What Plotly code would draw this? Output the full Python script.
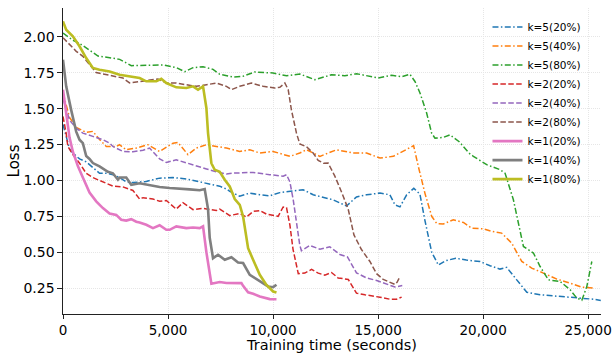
import plotly.graph_objects as go

# ---------------- data ----------------
series_names = ["k=5(20%)", "k=5(40%)", "k=5(80%)",
                "k=2(20%)", "k=2(40%)", "k=2(80%)",
                "k=1(20%)", "k=1(40%)", "k=1(80%)"]

t_k5_20 = [0, 150, 310, 470, 790, 1100, 1420, 1740, 2060, 2380, 2690, 3010, 3330, 3650, 3960,
           4600, 5240, 5870, 6510, 7140, 7460, 7780, 7940, 8410, 8890, 9370, 9840, 10320, 10800,
           11430, 11910, 12380, 12860, 13500, 13970, 14450, 15090, 15560, 15800, 16040, 16360,
           16700, 16990, 17230, 17550, 17870, 18200, 18700, 19200, 19850, 20330, 20800, 21120,
           21600, 22080, 22710, 23350, 23980, 24620, 25250, 25600]
loss_k5_20 = [1.39, 1.30, 1.22, 1.19, 1.15, 1.13, 1.09, 1.05, 1.05, 1.04, 1.02, 0.99, 0.985, 0.99, 0.993,
              1.016, 1.02, 1.01, 0.99, 0.967, 0.96, 0.94, 0.924, 0.89, 0.912, 0.90, 0.893, 0.915, 0.925,
              0.935, 0.90, 0.885, 0.865, 0.822, 0.885, 0.90, 0.912, 0.90, 0.83, 0.816, 0.90,
              0.945, 0.905, 0.72, 0.50, 0.41, 0.44, 0.458, 0.445, 0.435, 0.405, 0.382, 0.394,
              0.307, 0.22, 0.203, 0.196, 0.187, 0.18, 0.172, 0.163]

t_k5_40 = [0, 310, 630, 1100, 1420, 1740, 2060, 2530, 2690, 3010, 3490, 4040, 4600, 5240, 5470,
           5950, 6350, 6830, 7300, 7780, 8410, 8890, 9370, 10000, 10800, 11270, 11590, 12230, 13020,
           13810, 14450, 15090, 15720, 16360, 16690, 16910, 17230, 17550, 17790, 18100, 18580,
           19060, 19450, 20010, 20410, 20880, 21360, 21840, 22310, 22870, 23510, 24140, 24700, 25250]
loss_k5_40 = [1.61, 1.44, 1.37, 1.335, 1.342, 1.285, 1.237, 1.237, 1.249, 1.214, 1.226, 1.249, 1.202, 1.26, 1.265,
              1.18, 1.226, 1.249, 1.237, 1.226, 1.202, 1.214, 1.191, 1.202, 1.168, 1.191, 1.214, 1.168, 1.214,
              1.191, 1.191, 1.156, 1.168, 1.214, 1.242, 1.10, 0.91, 0.75, 0.70, 0.696, 0.726,
              0.707, 0.668, 0.663, 0.645, 0.633, 0.563, 0.435, 0.389, 0.354, 0.312, 0.284, 0.256, 0.25]

t_k5_80 = [0, 476, 794, 1270, 1667, 2222, 2698, 3254, 3968, 4762, 5400, 5793, 6190, 6666, 7142,
           7459, 7855, 8095, 8571, 9127, 10001, 10637, 11273, 11988, 12782, 13418, 13974, 14451,
           15007, 15642, 16119, 16516, 16754, 16993, 17310, 17548, 17707, 18104, 18420, 18860,
           19330, 19535, 20168, 20804, 21042, 21440, 21917, 22393, 22711, 23108, 23664, 24141,
           24459, 24697, 24935, 25173]
loss_k5_80 = [2.027, 1.977, 1.955, 1.907, 1.867, 1.856, 1.844, 1.80, 1.80, 1.805, 1.786, 1.758, 1.786, 1.793, 1.774,
              1.74, 1.728, 1.721, 1.726, 1.756, 1.749, 1.730, 1.742, 1.702, 1.737, 1.730, 1.744, 1.730,
              1.714, 1.733, 1.723, 1.740, 1.69, 1.61, 1.47, 1.33, 1.295, 1.30, 1.318, 1.27,
              1.19, 1.168, 1.11, 1.075, 1.051, 0.865, 0.54, 0.494, 0.40, 0.307, 0.296, 0.238,
              0.18, 0.165, 0.26, 0.435]

t_k2_20 = [0, 150, 230, 470, 790, 1100, 1420, 1740, 1900, 2380, 2850, 3330, 3650, 3810, 4280,
           4600, 4920, 5390, 5710, 6190, 6670, 7300, 7460, 7940, 8410, 8730, 9050, 9370, 9690,
           10000, 10240, 10480, 10640, 10800, 10950, 11200, 11510, 11750, 11830, 12150, 12460,
           12780, 13100, 13580, 13820, 13970, 14370, 14770, 15090, 15560, 15880, 16120]
loss_k2_20 = [1.446, 1.33, 1.237, 1.18, 1.12, 1.05, 1.02, 1.00, 0.99, 0.96, 0.955, 0.93, 0.87, 0.88, 0.87,
              0.855, 0.86, 0.80, 0.845, 0.796, 0.805, 0.79, 0.80, 0.755, 0.77, 0.745, 0.784, 0.79, 0.765,
              0.755, 0.75, 0.815, 0.81, 0.69, 0.52, 0.35, 0.354, 0.373, 0.38, 0.354, 0.34,
              0.358, 0.32, 0.31, 0.25, 0.214, 0.203, 0.195, 0.186, 0.172, 0.172, 0.187]

t_k2_40 = [0, 310, 630, 945, 1420, 1900, 2220, 2375, 2850, 3330, 3810, 4120, 4600, 4920, 5390,
           5870, 6350, 6830, 7300, 7780, 8100, 8410, 9050, 9840, 10480, 10640, 10800, 10960,
           11110, 11270, 11350, 11750, 12230, 12700, 13180, 13540, 13970, 14450, 14930, 15400,
           15800, 16150]
loss_k2_40 = [1.57, 1.42, 1.365, 1.33, 1.307, 1.284, 1.26, 1.237, 1.202, 1.20, 1.21, 1.226, 1.15, 1.125, 1.144,
              1.121, 1.098, 1.08, 1.06, 1.045, 1.051, 1.051, 1.056, 1.04, 1.03, 1.04, 0.99, 0.865,
              0.726, 0.55, 0.51, 0.547, 0.52, 0.537, 0.484, 0.467, 0.356, 0.32, 0.303, 0.28,
              0.257, 0.267]

t_k2_80 = [0, 310, 630, 945, 1263, 1581, 1899, 2375, 2852, 3170, 3650, 4120, 4520, 4920, 5390,
           5870, 6350, 6830, 7300, 7780, 8015, 8410, 8970, 9525, 10080, 10320, 10560, 10720,
           10875, 11113, 11271, 11590, 11908, 12146, 12400, 12622, 12940, 13258, 13576, 13850,
           14200, 14609, 14927, 15244, 15562, 15800, 15900, 16040]
loss_k2_80 = [1.995, 1.947, 1.90, 1.865, 1.807, 1.752, 1.742, 1.726, 1.714, 1.68, 1.691, 1.702, 1.707, 1.679, 1.679,
              1.667, 1.656, 1.667, 1.679, 1.656, 1.633, 1.656, 1.679, 1.656, 1.644, 1.649, 1.679, 1.633,
              1.49, 1.33, 1.255, 1.235, 1.191, 1.14, 1.12, 1.121, 1.03, 0.92, 0.80, 0.62,
              0.52, 0.435, 0.35, 0.31, 0.293, 0.275, 0.29, 0.33]

t_k1_20 = [0, 152, 310, 470, 707, 945, 1263, 1581, 1899, 2217, 2534, 2773, 3011, 3249, 3488,
           3647, 3964, 4282, 4600, 4918, 5077, 5394, 5712, 5871, 6189, 6507, 6666, 6825, 7063,
           7460, 7780, 8096, 8493, 8573, 8811, 9050, 9367, 9844, 10162]
loss_k1_20 = [1.632, 1.45, 1.30, 1.20, 1.10, 1.02, 0.915, 0.854, 0.807, 0.770, 0.760, 0.726, 0.720, 0.730, 0.712,
              0.707, 0.691, 0.668, 0.688, 0.656, 0.656, 0.68, 0.675, 0.668, 0.672, 0.668, 0.68, 0.50, 0.28,
              0.292, 0.285, 0.284, 0.284, 0.265, 0.22, 0.21, 0.191, 0.173, 0.172]

t_k1_40 = [0, 152, 391, 629, 786, 945, 1105, 1263, 1422, 1740, 2137, 2375, 2614, 2693, 3011,
           3249, 3647, 4123, 4600, 5077, 5554, 6030, 6507, 6745, 6904, 6984, 7142, 7381, 7699,
           8017, 8334, 8573, 8891, 9367, 9764, 10003, 10162]
loss_k1_40 = [1.842, 1.656, 1.49, 1.34, 1.284, 1.26, 1.17, 1.15, 1.121, 1.098, 1.06, 1.05, 1.005, 1.02, 1.02,
              0.97, 0.98, 0.965, 0.954, 0.947, 0.94, 0.938, 0.932, 0.94, 0.80, 0.60, 0.458, 0.482, 0.447,
              0.465, 0.428, 0.424, 0.342, 0.296, 0.261, 0.256, 0.273]

t_k1_80 = [0, 151, 469, 786, 1104, 1422, 1740, 2217, 2693, 3170, 3647, 3964, 4441, 4679, 4918,
           5394, 5871, 6189, 6427, 6666, 6825, 6904, 6984, 7063, 7222, 7460, 7699, 7937, 8176,
           8334, 8414, 8573, 8811, 9049, 9367, 9685, 10003, 10162]
loss_k1_80 = [2.109, 2.051, 2.005, 1.935, 1.853, 1.784, 1.772, 1.760, 1.737, 1.726, 1.714, 1.691, 1.691, 1.709, 1.679,
              1.649, 1.644, 1.656, 1.633, 1.656, 1.505, 1.33, 1.24, 1.12, 1.074, 1.06, 1.005, 0.958, 0.87,
              0.84, 0.83, 0.749, 0.528, 0.447, 0.342, 0.272, 0.226, 0.219]

x_tick_values = [0, 5000, 10000, 15000, 20000, 25000]
y_tick_values = [0.25, 0.50, 0.75, 1.00, 1.25, 1.50, 1.75, 2.00]
x_title = "Training time (seconds)"
y_title = "Loss"

# ---------------- styling ----------------
times = [t_k5_20, t_k5_40, t_k5_80, t_k2_20, t_k2_40, t_k2_80, t_k1_20, t_k1_40, t_k1_80]
losses = [loss_k5_20, loss_k5_40, loss_k5_80, loss_k2_20, loss_k2_40, loss_k2_80,
          loss_k1_20, loss_k1_40, loss_k1_80]
colors = ["#1f77b4", "#ff7f0e", "#2ca02c", "#d62728", "#9467bd", "#8c564b",
          "#e377c2", "#7f7f7f", "#bcbd22"]
DASHDOT = "6px,2.4px,1.5px,2.4px"
DASHED = "5.5px,2.4px"
dashes = [DASHDOT] * 3 + [DASHED] * 3 + ["solid"] * 3
widths = [1.5] * 6 + [2.6] * 3

fig = go.Figure()
for name, t, l, c, d, w in zip(series_names, times, losses, colors, dashes, widths):
    fig.add_trace(go.Scatter(x=t, y=l, mode="lines", name=name,
                             line=dict(color=c, width=w, dash=d)))

fig.update_layout(
    width=613, height=353,
    margin=dict(l=63, r=12, t=8, b=39),
    plot_bgcolor="white", paper_bgcolor="white",
    font=dict(family="DejaVu Sans", size=14, color="black"),
    showlegend=True,
    legend=dict(x=0.789, y=0.985, xanchor="left", yanchor="top",
                bgcolor="rgba(0,0,0,0)", borderwidth=0,
                font=dict(size=10.5), tracegroupgap=0, itemwidth=30),
)
axis_common = dict(showline=True, linecolor="#222", linewidth=1.2, mirror=False,
                   ticks="outside", tickwidth=1.2, tickcolor="#222",
                   showgrid=True, gridcolor="#e6e6e6", gridwidth=0.8, griddash="1px,1px",
                   zeroline=False)
fig.update_xaxes(range=[0, 25610], tickvals=x_tick_values, tickformat=",",
                 ticklen=3.5, tickfont=dict(size=13.5),
                 title=dict(text=x_title, font=dict(size=14.5), standoff=0),
                 automargin=False, **axis_common)
fig.update_yaxes(range=[0.069, 2.202], tickvals=y_tick_values, tickformat=".2f",
                 ticklen=4.5, tickfont=dict(size=14),
                 title=dict(text=y_title, font=dict(size=15), standoff=0),
                 automargin=False, **axis_common)

fig.write_html("out.html", config={"displayModeBar": False},
               post_script="document.body.style.margin='0';document.body.style.overflow='hidden';")
